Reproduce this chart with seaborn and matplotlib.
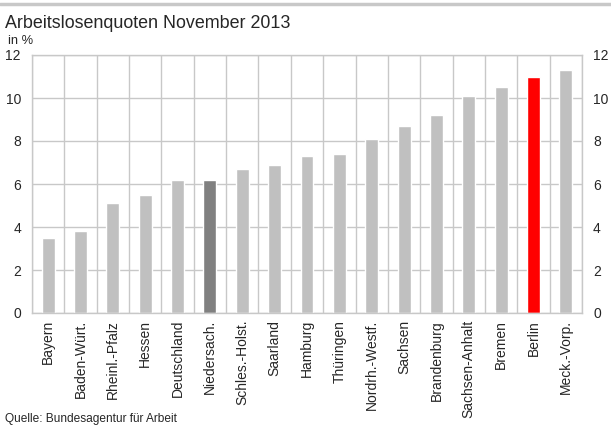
import numpy as np
import matplotlib
matplotlib.use('Agg')
import matplotlib.pyplot as plt
import seaborn as sns

laender = ['Bayern', 'Baden-Würt.', 'Rheinl.-Pfalz', 'Hessen', 'Deutschland',
           'Niedersach.', 'Schles.-Holst.', 'Saarland', 'Hamburg', 'Thüringen',
           'Nordrh.-Westf.', 'Sachsen', 'Brandenburg', 'Sachsen-Anhalt',
           'Bremen', 'Berlin', 'Meck.-Vorp.']
quoten = [3.5, 3.8, 5.1, 5.5, 6.2, 6.2, 6.7, 6.9, 7.3, 7.4,
          8.1, 8.7, 9.2, 10.1, 10.5, 11.0, 11.3]

farben = ['#c0c0c0'] * len(laender)
farben[laender.index('Niedersach.')] = '#808080'
farben[laender.index('Berlin')] = '#ff0000'

sns.set_style('white')
plt.rcParams['font.family'] = ['Liberation Sans', 'DejaVu Sans']

fig = plt.figure(figsize=(6.11, 4.29), dpi=100)
ax = fig.add_axes([32 / 611, 1 - 313 / 429, 550 / 611, 258 / 429])

sns.barplot(x=laender, y=quoten, hue=laender, palette=farben, width=0.4,
            legend=False, saturation=1, ax=ax)

ax.set_ylim(0, 12)
ax.set_xlim(-0.5, len(laender) - 0.5)
ax.set_yticks(np.arange(0, 13, 2))
ax.set_xticks(np.arange(len(laender)))
ax.set_xticklabels(laender, rotation=90, fontsize=10)
ax.set_xticks(np.arange(len(laender) + 1) - 0.5, minor=True)
ax.grid(axis='y', which='major', color='#c8c8c8', lw=1)
ax.grid(axis='x', which='minor', color='#c8c8c8', lw=1)
ax.grid(axis='x', which='major', visible=False)
ax.set_axisbelow(True)
for s in ax.spines.values():
    s.set_color('#c8c8c8')
    s.set_linewidth(1)
ax.tick_params(axis='both', which='both', length=0)
ax.tick_params(axis='y', labelright=True, labelsize=10, pad=8)
ax.tick_params(axis='x', pad=5)
ax.set_xlabel('')
ax.set_ylabel('')

fig.text(5 / 611, 1 - 23 / 429, 'Arbeitslosenquoten November 2013', fontsize=12.9,
         va='center', ha='left')
fig.text(8 / 611, 1 - 41 / 429, 'in %', fontsize=9.3, va='center', ha='left')
fig.text(5 / 611, 1 - 419 / 429, 'Quelle: Bundesagentur für Arbeit', fontsize=8.6,
         va='center', ha='left')
fig.add_artist(plt.Line2D([0, 1], [1 - 4 / 429, 1 - 4 / 429], color='#c8c8c8', lw=2.5,
                          transform=fig.transFigure))

fig.savefig('out.png', dpi=100)
